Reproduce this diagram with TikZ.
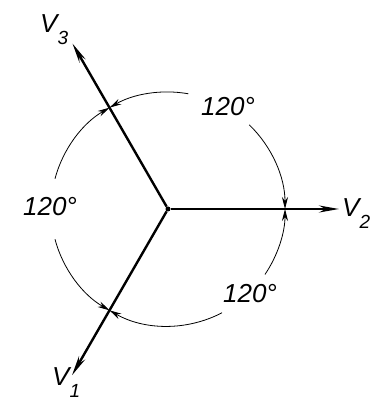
\documentclass[tikz,border=0pt]{standalone}
\usepackage{fontspec}
\setmainfont{Liberation Sans}
\usetikzlibrary{arrows.meta}
\tikzstyle{vx}=[shape=circle, minimum size=5pt, inner sep=0, fill=black]
\tikzstyle{vec}=[line width=2.4pt, -{Stealth[length=20pt, width=7pt]}]
\tikzstyle{dim}=[line width=0.8pt, {Stealth[length=12pt, width=6pt]}-]
\tikzstyle{ang}=[font=\itshape\fontsize{26}{26}\selectfont, inner sep=0]
\tikzstyle{lab}=[font=\itshape\fontsize{26}{26}\selectfont, inner sep=0, anchor=base west]
\newcommand{\vsub}[1]{V\raisebox{-12pt}{\fontsize{19}{19}\selectfont #1}}

\begin{document}
\begin{tikzpicture}[x=1pt, y=1pt]
\useasboundingbox (-168,-192) rectangle (204,209);
\node[vx] (o) at (0,0) {};
\foreach \k/\a/\r in {1/240/192, 2/0/171, 3/120/191}
	{\coordinate (v\k) at (\a:\r);
	\draw[vec] (o)--(v\k);}
% dimension arcs, split round the text
\foreach \s/\e/\p/\q in {120/80/0/46, 240/195/120/165, 240/297.5/360/326}
	{\draw[dim] (\s:117) arc[start angle=\s, end angle=\e, radius=117];
	\draw[dim] (\p:117) arc[start angle=\p, end angle=\q, radius=117];}
\node[ang] (a32) at (60,102) {120°};
\node[ang] (a13) at (-118,2) {120°};
\node[ang] (a21) at (82,-85) {120°};
\node[lab] (l3) at (-128,176) {\vsub{3}};
\node[lab] (l2) at (174,-8) {\vsub{2}};
\node[lab] (l1) at (-116,-176) {\vsub{1}};
\end{tikzpicture}
\end{document}
